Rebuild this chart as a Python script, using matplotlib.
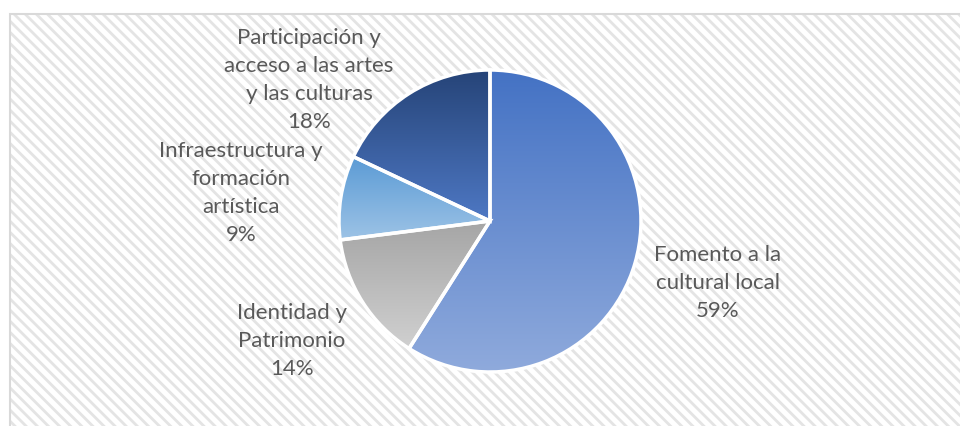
import numpy as np
import matplotlib
matplotlib.rcParams.update({'font.family': ['Lato', 'DejaVu Sans'], 'hatch.linewidth': 2.0})
from matplotlib import pyplot as plt
from matplotlib.patches import Rectangle
from matplotlib.colors import LinearSegmentedColormap

labels = ['Fomento a la\ncultural local', 'Identidad y\nPatrimonio',
          'Infraestructura y\nformación\nartística',
          'Participación y\nacceso a las artes\ny las culturas']
shares = [59, 14, 9, 18]
top_colours = ['#4472C4', '#A5A5A5', '#5B9BD5', '#264478']
bottom_colours = ['#8FAADC', '#D0D0D0', '#9DC3E6', '#4E78C4']
label_pos = [(718, 283), (292, 341), (241, 193), (309, 80)]

W, H = 960, 426
f = plt.figure(figsize=(W/100, H/100), dpi=100)
ax = f.add_axes([0, 0, 1, 1])

# chart area background with diagonal hatch
ax.add_patch(Rectangle((10, -10), W, H - 14 + 10, facecolor='white', edgecolor='#E4E4E4',
                       linewidth=0, hatch='\\\\\\', zorder=0))
ax.add_patch(Rectangle((10, -10), W, H - 14 + 10, facecolor='none', edgecolor='#D9D9D9',
                       linewidth=1.5, zorder=1))

cx, cy, r = 490, H - 221, 151
wedges, _ = ax.pie(shares, center=(cx, cy), radius=r, startangle=90, counterclock=False,
                   wedgeprops=dict(facecolor='none', edgecolor='white', linewidth=2.5), frame=True)

for w, c0, c1 in zip(wedges, top_colours, bottom_colours):
    w.set_zorder(3)
    ext = w.get_path().transformed(w.get_patch_transform()).get_extents()
    cmap = LinearSegmentedColormap.from_list('g', [c1, c0])
    grad = np.linspace(0, 1, 256).reshape(-1, 1)
    im = ax.imshow(grad, cmap=cmap, origin='lower', aspect='auto',
                   extent=[ext.x0, ext.x1, ext.y0, ext.y1], zorder=2)
    im.set_clip_path(w)

for lab, s, (x, y) in zip(labels, shares, label_pos):
    ax.text(x, H - y, f'{lab}\n{s}%', ha='center', va='center', fontsize=16,
            color='#595959', linespacing=1.5, zorder=4)

ax.set_xlim(0, W)
ax.set_ylim(0, H)
ax.set_aspect('auto')
ax.axis('off')

plt.savefig('out.png', dpi=100)
